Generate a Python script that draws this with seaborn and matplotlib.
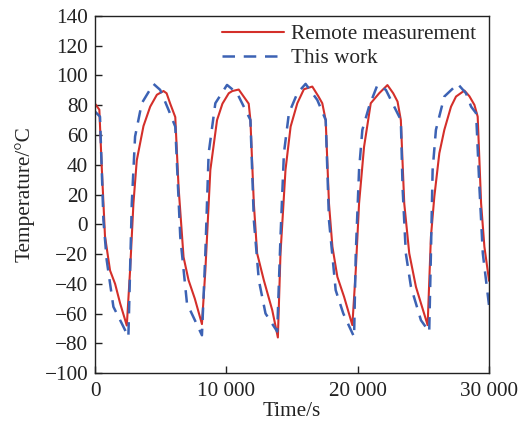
import matplotlib
matplotlib.use("Agg")
import matplotlib.pyplot as plt
import seaborn as sns
import pandas as pd

# Remote measurement (red solid)
red_t = [0, 330, 510, 760, 1145, 1530, 1910, 2420, 2670, 2925, 3180, 3690, 4200, 4710,
         5215, 5450, 5725, 6110, 6360, 6740, 7120, 7600, 8140, 8400, 8780, 9290, 9700,
         10180, 10450, 10940, 11300, 11700, 11830, 12090, 12340, 12850, 13490, 13920,
         14120, 14500, 14890, 15400, 15900, 16540, 17000, 17300, 17560, 17810, 18070,
         18450, 18960, 19590, 19850, 20100, 20480, 20990, 21630, 22260, 22700, 23030,
         23280, 23540, 23920, 24430, 24810, 25320, 25570, 25830, 26210, 26590, 27100,
         27480, 28120, 28500, 28880, 29130, 29390, 29640, 30000]
red_v = [81, 77, 39, -8, -31, -40, -53, -68, -31, 14, 43, 66, 79, 87,
         89.5, 88, 81, 72, 25, -22, -37.5, -50, -67, -31, 36.5, 70, 81,
         88, 89.5, 90.5, 86, 81, 70, 14, -19.5, -37.5, -57.6, -76,
         -19.5, 36.5, 65.6, 81.3, 90.7, 92.5, 86, 81.3, 70, 14, -15,
         -35.3, -48.7, -67.7, -30.8, 14, 52, 81.3, 88, 93.5, 88, 82.4,
         70, 14, -19.5, -42, -53, -67.7, -8.4, 18.6, 47.7, 63.4, 79,
         85.8, 89.8, 86, 80.2, 72.3, 14, -15, -38]

# This work (blue dashed)
blue_t = [0, 380, 640, 890, 1400, 2040, 2540, 2800, 3050, 3560, 4450, 4960, 5600,
          6110, 6490, 7000, 8140, 8400, 8650, 9160, 10050, 10820, 11450, 11830, 12090,
          12470, 12980, 13870, 14120, 14380, 14760, 15400, 16030, 16920, 17560, 17810,
          18320, 18900, 19720, 19850, 20100, 20350, 20860, 21500, 22140, 22900, 23280,
          23410, 23660, 24050, 24810, 25440, 25570, 25700, 25950, 26590, 27610, 28240,
          28630, 29010, 29260, 29520, 30000]
blue_v = [75.7, 72.3, 2.9, -24, -55.4, -66.6, -75.6, 14, 58.9, 81.3, 94.3, 90.3, 76.8,
          65.6, -8.4, -53.1, -74.5, -19.5, 47.7, 81.3, 93.6, 88, 76.8, 70.1, 2.9,
          -37.5, -59.9, -72, -8.4, 47.7, 74.6, 88, 94.3, 83.5, 70.1, 2.9,
          -44.2, -59.9, -75.6, -19.5, 36.5, 63.4, 79, 93.6, 90.3, 76.8, 70.1,
          25.2, -19.5, -42, -64.4, -72.2, -19.5, 36.5, 63.4, 85.8, 94.3, 88,
          79, 74.6, 25.2, -19.5, -55]

x_ticks = [0, 10000, 20000, 30000]
x_labels = ["0", "10 000", "20 000", "30 000"]
y_ticks = list(range(-100, 141, 20))
y_labels = [str(v).replace("-", "\u2212") for v in y_ticks]

FS = 15.3

sns.set_theme(style="ticks")
plt.rcParams["font.family"] = ["Liberation Serif", "DejaVu Serif"]
plt.rcParams["axes.linewidth"] = 1.0

fig = plt.figure(figsize=(5.22, 4.28), dpi=100)
ax = fig.add_axes([0.182, 0.128, 0.755, 0.835])

red_df = pd.DataFrame({"t": red_t, "v": red_v})
blue_df = pd.DataFrame({"t": blue_t, "v": blue_v})

sns.lineplot(data=red_df, x="t", y="v", ax=ax, sort=False, color="#d42f2a",
             linewidth=1.5, label="Remote measurement")
sns.lineplot(data=blue_df, x="t", y="v", ax=ax, sort=False, color="#3c62b4",
             linewidth=1.8, label="This work")
ax.lines[1].set_dashes([5, 3.5])

ax.set_xlim(0, 30000)
ax.set_ylim(-100, 140)
ax.set_xticks(x_ticks)
ax.set_xticklabels(x_labels)
ax.set_yticks(y_ticks)
ax.set_yticklabels(y_labels)
ax.tick_params(direction="in", length=5, width=1, labelsize=FS, colors="#222222",
               labelcolor="#222222")
ax.tick_params(axis="x", pad=6)
ax.tick_params(axis="y", pad=5)
for s in ax.spines.values():
    s.set_visible(True)
    s.set_color("#222222")
ax.set_xlabel("Time/s", fontsize=FS, labelpad=1, color="#222222")
ax.set_ylabel("Temperature/\u00b0C", fontsize=FS, labelpad=7, color="#222222")

leg = ax.legend(loc="upper right", bbox_to_anchor=(1.0, 1.012), frameon=False,
                fontsize=FS, handlelength=2.9, handletextpad=0.35,
                borderaxespad=0.2, labelspacing=0.2)
leg.get_lines()[1].set_dashes([5, 3.5])

fig.savefig("out.png", dpi=100)
